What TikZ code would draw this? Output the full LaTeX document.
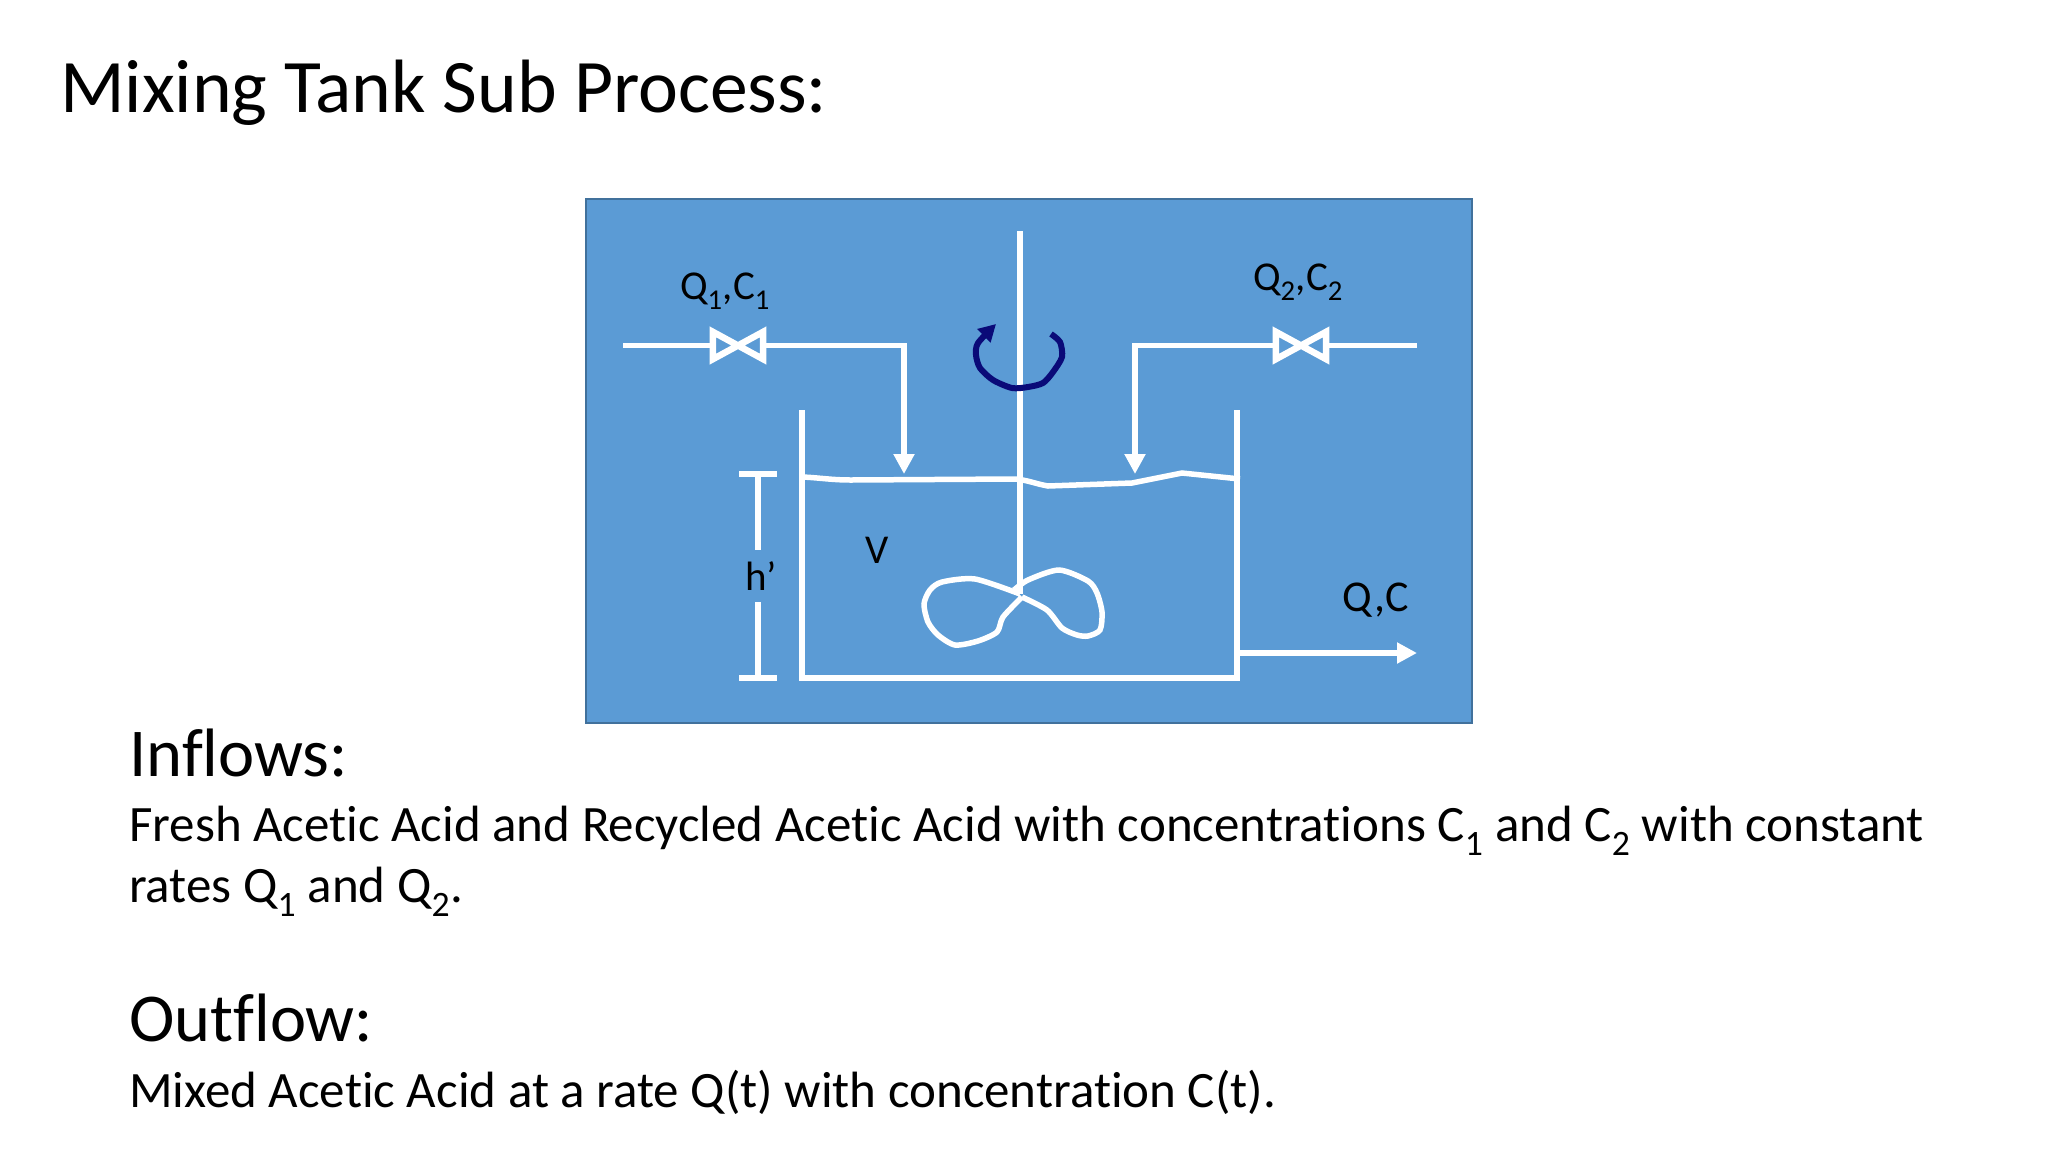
\documentclass[tikz,border=0pt]{standalone}
\usepackage{fontspec}
\setmainfont[Ligatures=NoCommon]{Carlito}
\usetikzlibrary{arrows.meta}
\usetikzlibrary{positioning}
\definecolor{panelblue}{HTML}{5B9BD5}
\definecolor{paneledge}{HTML}{41719C}
\definecolor{spinblue}{HTML}{0A0A78}
\newcommand{\fsize}[1]{\fontsize{#1}{#1}\selectfont}
\tikzset{
    slidetext/.style={anchor=base west,inner sep=0pt,text=black},
    headtext/.style={slidetext,font=\fsize{68.5}},
    bodytext/.style={slidetext,font=\fsize{51}},
    tanklabel/.style={inner sep=0pt,text=black,font=\fsize{41}},
    pipeline/.style={draw=white,line width=5.5pt},
    flowline/.style={pipeline,-{Triangle[width=20pt,length=20pt]}},
    valvebox/.style={minimum width=50pt,minimum height=27pt,inner sep=0pt},
}
\begin{document}
\begin{tikzpicture}[x=1pt,y=-1pt]
    \useasboundingbox[fill=white] (0,0) rectangle (2048,1152);

    \node[slidetext,font=\fsize{75.6}] (Title) at (60,112) {Mixing Tank Sub Process:};

    \draw[fill=panelblue,draw=paneledge,line width=1.5pt] (586,199) rectangle (1472,723);

    % feed pipes and valves
    \coordinate (FeedA) at (623,345.5);
    \coordinate (FeedB) at (1417,345.5);
    \coordinate (TipA) at (904,474);
    \coordinate (TipB) at (1135,474);
    \node[valvebox] (ValveA) at (738,345.5) {};
    \node[valvebox] (ValveB) at (1301,345.5) {};
    \foreach \v in {ValveA,ValveB}
        \draw[pipeline,line width=6.5pt,fill=panelblue] (\v.south west) -- (\v.north east) -- (\v.south east) -- (\v.north west) -- cycle;
    \draw[pipeline] (FeedA) -- (ValveA.west);
    \draw[pipeline] (FeedB) -- (ValveB.east);
    \draw[flowline] (ValveA.east) -| (TipA);
    \draw[flowline] (ValveB.west) -| (TipB);
    \node[tanklabel] (LabelA) at (725,291) {Q\textsubscript{1},C\textsubscript{1}};
    \node[tanklabel] (LabelB) at (1298,282) {Q\textsubscript{2},C\textsubscript{2}};

    % tank
    \coordinate (WallA) at (802,410);
    \coordinate (WallB) at (1237,410);
    \coordinate (BaseA) at (802,678);
    \coordinate (BaseB) at (1237,678);
    \draw[pipeline] (WallA) -- (BaseA) -- (BaseB) -- (WallB);
    \draw[pipeline] (803,477) to[out=-3,in=180] (851,480) -- (1015,479) to[out=-5,in=170] (1048,486)
        -- (1132,483) -- (1182,473) -- (1240,479);

    % shaft and mixer blades
    \coordinate (ShaftTop) at (1020,231);
    \coordinate (ShaftEnd) at (1020,594);
    \draw[pipeline] (ShaftTop) -- (ShaftEnd);
    \draw[pipeline] plot[smooth,tension=0.45] coordinates {(1020,594) (975,579) (942,582) (930,590) (924,604)
        (928,622) (938,635) (955,645) (978,641) (997,632) (1003,617) (1022,597)};
    \draw[pipeline] plot[smooth,tension=0.45] coordinates {(1014,590) (1028,580) (1059,570) (1088,581) (1097,593)
        (1102,612) (1100,630) (1088,636) (1077,635) (1062,628) (1047,610) (1022,597)};
    \draw[draw=spinblue,line width=6pt,-{Triangle[width=18pt,length=17pt]}] plot[smooth,tension=0.45] coordinates {
        (1051,334) (1060,342) (1062,357) (1053,372) (1043,383) (1028,387) (1012,388) (993,380)
        (980,368) (976,355) (978,343) (996,324)};

    % level mark
    \node[tanklabel,minimum height=52pt] (LabelH) at (761,576) {h’};
    \coordinate (LevelTop) at (758,474);
    \coordinate (LevelEnd) at (758,678);
    \draw[pipeline,line width=6pt] ([xshift=-19pt]LevelTop) -- ([xshift=19pt]LevelTop);
    \draw[pipeline,line width=6pt] ([xshift=-19pt]LevelEnd) -- ([xshift=19pt]LevelEnd);
    \draw[pipeline] (LevelTop) -- (LabelH.north -| LevelTop);
    \draw[pipeline] (LevelEnd) -- (LabelH.south -| LevelEnd);
    \node[tanklabel] (LabelV) at (877,550) {V};

    % outflow
    \coordinate (Drain) at (1237,653);
    \coordinate (DrainEnd) at (1417,653);
    \draw[flowline] (Drain) -- (DrainEnd);
    \node[tanklabel,font=\fsize{44}] (LabelQ) at (1376,600) {Q,C};

    % text below the panel
    \node[headtext] (InHead) at (129,776) {Inflows:};
    \node[bodytext,below=65pt of InHead.base west,anchor=base west] (InLineA) {Fresh Acetic Acid and Recycled Acetic Acid with concentrations C\textsubscript{1} and C\textsubscript{2} with constant};
    \node[bodytext,below=61pt of InLineA.base west,anchor=base west] (InLineB) {rates Q\textsubscript{1} and Q\textsubscript{2}.};
    \node[headtext,below=139pt of InLineB.base west,anchor=base west] (OutHead) {Outflow:};
    \node[bodytext,below=66pt of OutHead.base west,anchor=base west] (OutLine) {Mixed Acetic Acid at a rate Q(t) with concentration C(t).};
\end{tikzpicture}
\end{document}
